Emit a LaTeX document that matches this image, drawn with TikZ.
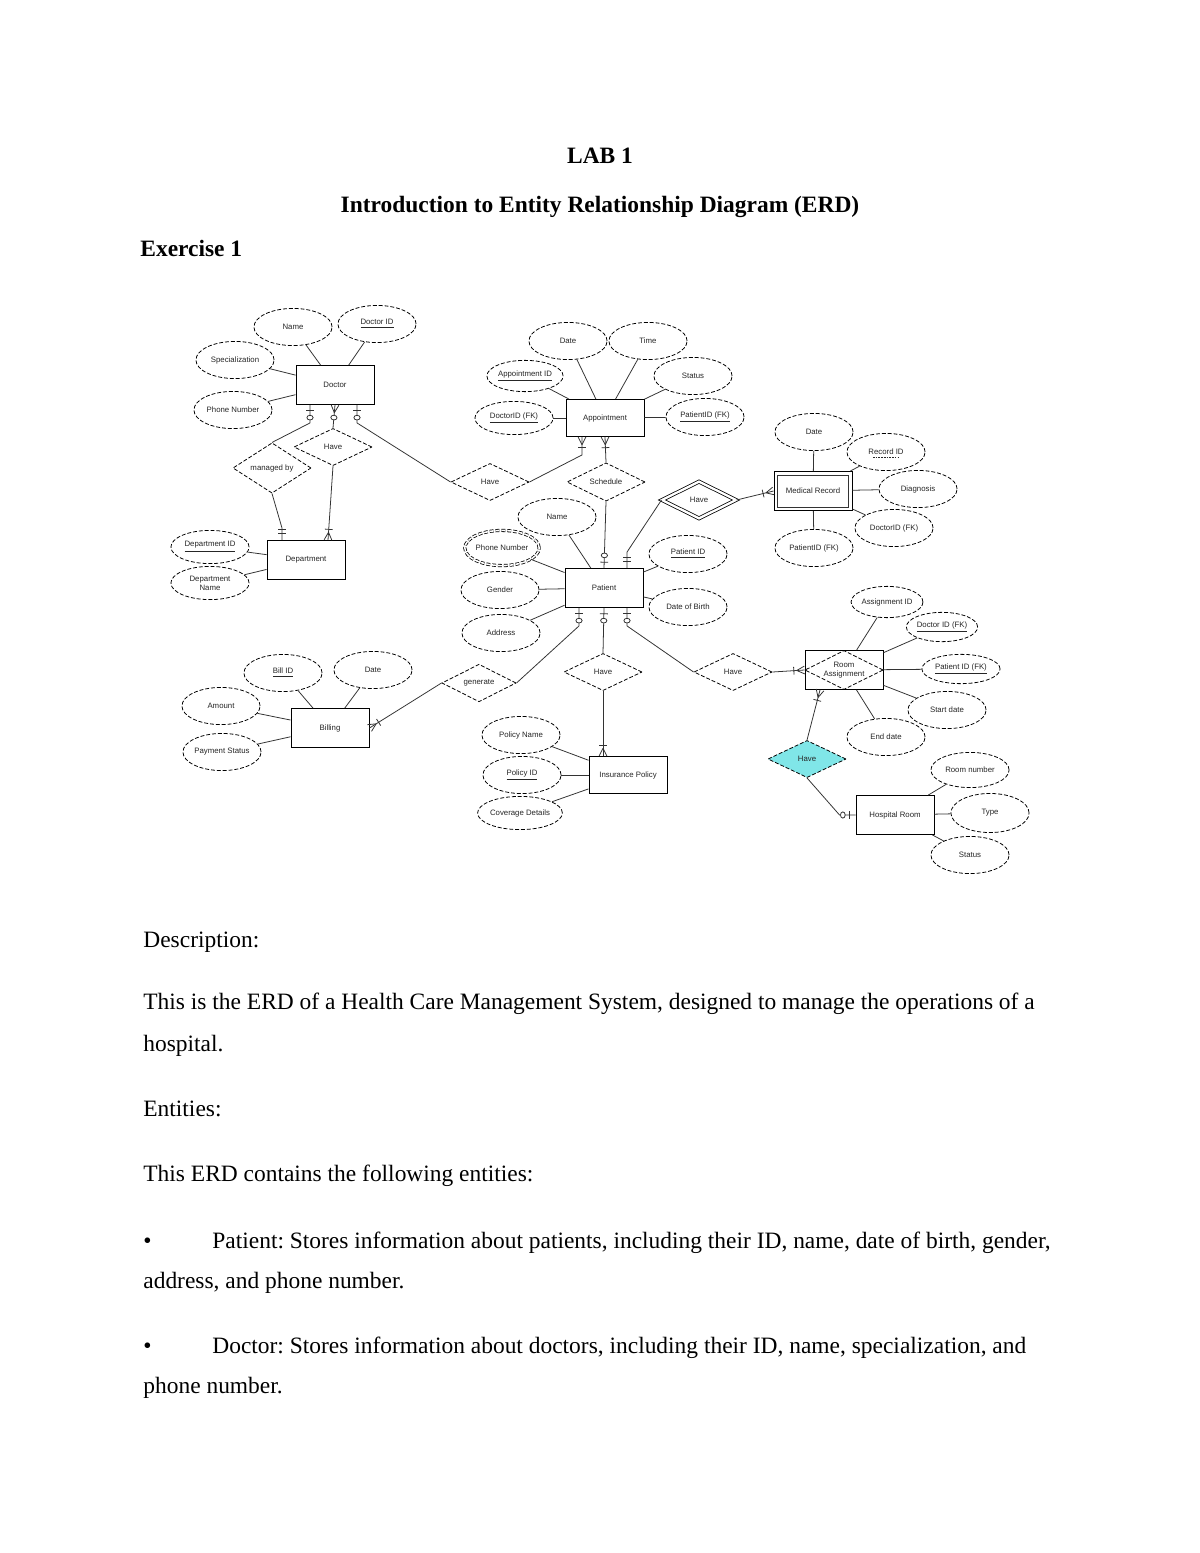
\documentclass[tikz,border=0pt]{standalone}
\usepackage{fontspec}
\setmainfont{Liberation Serif}
\newfontfamily\erdfont{Liberation Sans}
\usepackage{xcolor}
\usepackage{tikz}
\usetikzlibrary{shapes.geometric,calc,decorations.markings}

\definecolor{relcyan}{RGB}{128,230,232}
\newcommand{\erdtext}{\erdfont\fontsize{4}{4.6}\selectfont}
\newcommand{\bodytext}{\fontsize{12}{14}\selectfont}
\newcommand{\headtext}{\fontsize{12}{14}\selectfont\bfseries}
\frenchspacing

\begin{document}
\begin{tikzpicture}[x=0.01799cm, y=-0.01799cm,
    attr/.style={draw, ellipse, dashed, dash pattern=on 2pt off 1pt, minimum width=40pt, minimum height=19pt, inner sep=0pt, font=\erdtext, align=center, text=black!85},
    entity/.style={draw, rectangle, minimum width=40pt, minimum height=20pt, inner sep=0pt, font=\erdtext, align=center, text=black!85},
    rel/.style={draw, diamond, dashed, dash pattern=on 2pt off 1pt, minimum width=40pt, minimum height=19pt, inner sep=0pt, font=\erdtext, text=black!85},
    link/.style={draw=black!80, line width=0.4pt},
    oneone/.style={link, postaction={decorate}, decoration={markings,
        mark=at position -5.5pt with {\draw[black!80] (0,-2pt) -- (0,2pt);},
        mark=at position -3.5pt with {\draw[black!80] (0,-2pt) -- (0,2pt);}}},
    zeroone/.style={link, postaction={decorate}, decoration={markings,
        mark=at position -6.5pt with {\draw[black!80, fill=white] (0,0) ellipse (1.2pt and 1.6pt);},
        mark=at position -3pt with {\draw[black!80] (0,-2pt) -- (0,2pt);}}},
    onemany/.style={link, postaction={decorate}, decoration={markings,
        mark=at position -5.5pt with {\draw[black!80] (0,-2pt) -- (0,2pt);},
        mark=at position -4pt with {\draw[black!80] (0,0) -- (4pt,2pt) (0,0) -- (4pt,-2pt);}}},
    zeromany/.style={link, postaction={decorate}, decoration={markings,
        mark=at position -6.5pt with {\draw[black!80, fill=white] (0,0) ellipse (1.2pt and 1.6pt);},
        mark=at position -4pt with {\draw[black!80] (0,0) -- (4pt,2pt) (0,0) -- (4pt,-2pt);}}},
    txt/.style={inner sep=0pt, font=\bodytext}]

    % Page
    \fill[white] (0,0) rectangle (1200,1553);
    \useasboundingbox (0,0) rectangle (1200,1553);

    % Heading
    \node[inner sep=0pt, font=\headtext, anchor=base] (lab) at (600,164) {LAB 1};
    \node[inner sep=0pt, font=\headtext, anchor=base] (title) at (600,213) {Introduction to Entity Relationship Diagram (ERD)};
    \node[inner sep=0pt, font=\headtext, anchor=base west] (exercise) at (140,257) {Exercise 1};

    % Doctor
    \node[entity] (doc) at (335,385) {Doctor};
    \node[attr] (docName) at (293,327) {Name};
    \node[attr] (docId) at (377,324) {\underline{Doctor ID}};
    \node[attr] (docSpec) at (235,360) {Specialization};
    \node[attr] (docPhone) at (233,410) {Phone Number};
    \draw[link] (docName) -- (doc);
    \draw[link] (docId) -- (doc);
    \draw[link] (docSpec) -- (doc);
    \draw[link] (docPhone) -- (doc);

    % Department
    \node[entity] (dept) at (306,560) {Department};
    \node[attr, minimum height=17pt] (deptId) at (210,547) {\underline{Department ID}};
    \node[attr, minimum height=17pt] (deptName) at (210,583) {Department\\Name};
    \draw[link] (deptId) -- (dept);
    \draw[link] (deptName) -- (dept);
    \node[rel] (manby) at (272,468) {managed by};
    \node[rel] (haveDD) at (333,447) {Have};

    % Appointment
    \node[entity, minimum height=19pt] (appt) at (605,418) {Appointment};
    \node[attr] (apDate) at (568,341) {Date};
    \node[attr] (apTime) at (648,341) {Time};
    \node[attr, minimum width=37pt, minimum height=16pt] (apId) at (525,376) {\underline{Appointment ID}};
    \node[attr] (apStatus) at (693,376) {Status};
    \node[attr, minimum height=17pt] (apDoc) at (514,418) {\underline{DoctorID (FK)}};
    \node[attr] (apPat) at (705,417) {\underline{PatientID (FK)}};
    \draw[link] (apDate) -- (appt);
    \draw[link] (apTime) -- (appt);
    \draw[link] (apId) -- (appt);
    \draw[link] (apStatus) -- (appt);
    \draw[link] (apDoc) -- (appt);
    \draw[link] (apPat) -- (appt);
    \node[rel] (haveDA) at (490,482) {Have};
    \node[rel] (sched) at (606,482) {Schedule};

    % Medical Record (weak entity)
    \node[entity] (medrec) at (813,491) {Medical Record};
    \draw[black!80] ($(medrec.north west)+(4,4)$) rectangle ($(medrec.south east)+(-4,-4)$);
    \node[attr] (mrDate) at (814,432) {Date};
    \node[attr] (mrId) at (886,452) {Record ID};
    \draw[black!85, dashed, dash pattern=on 0.8pt off 0.6pt] ($(mrId.center)+(-13,5)$) -- ($(mrId.center)+(13,5)$);
    \node[attr] (mrDiag) at (918,489) {Diagnosis};
    \node[attr] (mrDoc) at (894,528) {DoctorID (FK)};
    \node[attr] (mrPat) at (814,548) {PatientID (FK)};
    \draw[link] (mrDate) -- (medrec);
    \draw[link] (mrId) -- (medrec);
    \draw[link] (mrDiag) -- (medrec);
    \draw[link] (mrDoc) -- (medrec);
    \draw[link] (mrPat) -- (medrec);
    \node[rel, solid, double, double distance=1.2pt, minimum width=38pt] (havePM) at (699,500) {Have};

    % Patient
    \node[entity] (pat) at (604,588) {Patient};
    \node[attr] (ptName) at (557,517) {Name};
    \node[attr, double, double distance=0.8pt, minimum width=38pt, minimum height=18pt] (ptPhone) at (502,548) {Phone Number};
    \node[attr] (ptId) at (688,554) {\underline{Patient ID}};
    \node[attr] (ptGender) at (500,590) {Gender};
    \node[attr] (ptDob) at (688,607) {Date of Birth};
    \node[attr] (ptAddr) at (501,633) {Address};
    \draw[link] (ptName) -- (pat);
    \draw[link] (ptPhone) -- (pat);
    \draw[link] (ptId) -- (pat);
    \draw[link] (ptGender) -- (pat);
    \draw[link] (ptDob) -- (pat);
    \draw[link] (ptAddr) -- (pat);

    % Billing
    \node[entity] (bill) at (330,728) {Billing};
    \node[attr] (blId) at (283,673) {\underline{Bill ID}};
    \node[attr] (blDate) at (373,670) {Date};
    \node[attr] (blAmount) at (221,706) {Amount};
    \node[attr] (blStatus) at (222,752) {Payment Status};
    \draw[link] (blId) -- (bill);
    \draw[link] (blDate) -- (bill);
    \draw[link] (blAmount) -- (bill);
    \draw[link] (blStatus) -- (bill);
    \node[rel, minimum width=38pt] (gen) at (479,683) {generate};

    % Insurance Policy
    \node[entity, minimum height=19pt] (ins) at (628,775) {Insurance Policy};
    \node[attr] (inName) at (521,735) {Policy Name};
    \node[attr] (inId) at (522,775) {\underline{Policy ID}};
    \node[attr, minimum height=17pt] (inCov) at (520,813) {Coverage Details};
    \draw[link] (inName) -- (ins);
    \draw[link] (inId) -- (ins);
    \draw[link] (inCov) -- (ins);
    \node[rel] (havePI) at (603,672) {Have};

    % Room Assignment (associative entity)
    \node[rel] (havePR) at (733,672) {Have};
    \node[entity] (ra) at (844,670) {Room\\Assignment};
    \node[rel, minimum width=40pt, minimum height=20pt] (raDia) at (ra) {};
    \node[attr, minimum width=36pt, minimum height=16pt] (raId) at (887,602) {Assignment ID};
    \node[attr, minimum width=36pt, minimum height=15pt] (raDoc) at (942,627) {\underline{Doctor ID (FK)}};
    \node[attr, minimum height=15pt] (raPat) at (961,669) {\underline{Patient ID (FK)}};
    \node[attr] (raStart) at (947,710) {Start date};
    \node[attr] (raEnd) at (886,737) {End date};
    \draw[link] (raId) -- (ra);
    \draw[link] (raDoc) -- (ra);
    \draw[link] (raPat) -- (ra);
    \draw[link] (raStart) -- (ra);
    \draw[link] (raEnd) -- (ra);

    % Hospital Room
    \node[rel, fill=relcyan] (haveRH) at (807,759) {Have};
    \node[entity] (room) at (895,815) {Hospital Room};
    \node[attr, minimum height=18pt] (rmNum) at (970,770) {Room number};
    \node[attr, minimum height=20pt] (rmType) at (990,813) {Type};
    \node[attr] (rmStatus) at (970,855) {Status};
    \draw[link] (rmNum) -- (room);
    \draw[link] (rmType) -- (room);
    \draw[link] (rmStatus) -- (room);

    % Relationships
    \draw[zeroone] (manby.north) -- ($(doc.south)+(-25,18)$) -- ($(doc.south)+(-25,0)$);
    \draw[oneone] (manby.south) -- ($(dept.north)+(-24,-12)$) -- ($(dept.north)+(-24,0)$);
    \draw[zeromany] (haveDD.north) -- (doc.south);
    \draw[onemany] (haveDD.south) -- ($(dept.north)+(22,0)$);
    \draw[zeroone] (haveDA.west) -- ($(doc.south)+(22,18)$) -- ($(doc.south)+(22,0)$);
    \draw[onemany] (haveDA.east) -- ($(appt.south)+(-23,18)$) -- ($(appt.south)+(-23,0)$);
    \draw[onemany] (sched.north) -- (appt.south);
    \draw[zeroone] (sched.south) -- (pat.north);
    \draw[oneone] (havePM.west) -- ($(pat.north)+(23,-16)$) -- ($(pat.north)+(23,0)$);
    \draw[onemany] (havePM.east) -- (medrec.west);
    \draw[zeroone] (gen.east) -- ($(pat.south)+(-25,18)$) -- ($(pat.south)+(-25,0)$);
    \draw[onemany] (gen.west) -- (bill.east);
    \draw[zeroone] (havePI.north) -- (pat.south);
    \draw[onemany] (havePI.south) -- ($(ins.north)+(-25,0)$);
    \draw[zeroone] (havePR.west) -- ($(pat.south)+(23,18)$) -- ($(pat.south)+(23,0)$);
    \draw[onemany] (havePR.east) -- (ra.west);
    \draw[onemany] (haveRH.north) -- ($(ra.south)+(-24,0)$);
    \draw[zeroone] (haveRH.south) -- ($(room.west)+(-16,0)$) -- (room.west);

    % Description
    \node[txt, anchor=base west] (descHead) at (143,947) {Description:};
    \node[txt, anchor=base west] (desc1) at (143,1009) {This is the ERD of a Health Care Management System, designed to manage the operations of a};
    \node[txt, anchor=base west] (desc2) at (143,1051) {hospital.};
    \node[txt, anchor=base west] (entHead) at (143,1116) {Entities:};
    \node[txt, anchor=base west] (ent0) at (143,1181) {This ERD contains the following entities:};
    \node[txt, anchor=base west] (bulPat) at (143,1248) {•};
    \node[txt, anchor=base west] (ent1) at (212,1248) {Patient: Stores information about patients, including their ID, name, date of birth, gender,};
    \node[txt, anchor=base west] (ent1b) at (143,1288) {address, and phone number.};
    \node[txt, anchor=base west] (bulDoc) at (143,1353) {•};
    \node[txt, anchor=base west] (ent2) at (212,1353) {Doctor: Stores information about doctors, including their ID, name, specialization, and};
    \node[txt, anchor=base west] (ent2b) at (143,1393) {phone number.};
\end{tikzpicture}
\end{document}
